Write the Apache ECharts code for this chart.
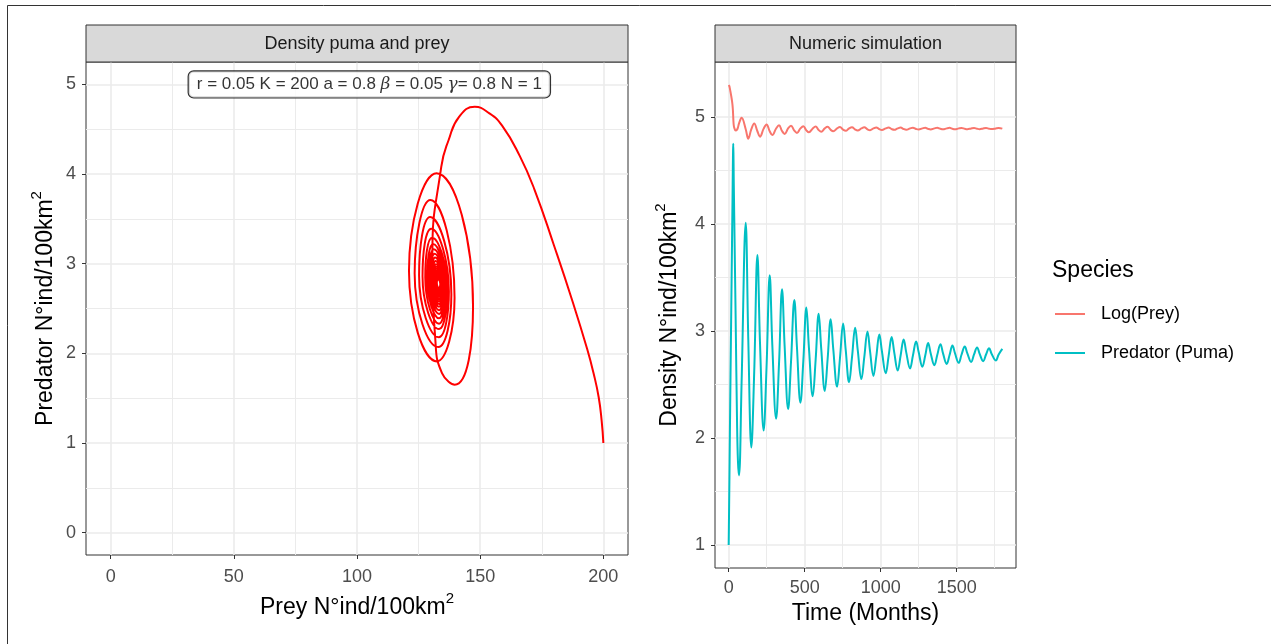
<!DOCTYPE html>
<html>
<head>
<meta charset="utf-8">
<script src="https://cdn.jsdelivr.net/npm/echarts@6/dist/echarts.min.js"></script>
<style>
  html, body { margin: 0; padding: 0; background: #ffffff; }
  #chart { width: 1271px; height: 644px; }
</style>
</head>
<body>
<div id="chart"></div>
<script>
// Simulated time points (months) with prey and puma densities (N°ind/100km²)
const months = [
  0, 2, 4, 6, 8, 12, 17, 22, 25, 27.5, 28.8, 30, 31.5, 33.5, 36.5, 46, 55, 61, 68, 85,
  112, 129, 149, 168,
  189, 206, 230, 249,
  270, 287, 312, 331,
  351, 368, 391, 410,
  432, 449, 472, 491,
  511, 528, 553, 572,
  592, 609, 632, 651,
  671, 688, 713, 732,
  753, 770, 792, 811,
  832, 849, 873, 892,
  913, 930, 952, 971,
  991, 1008, 1033, 1052,
  1072, 1089, 1112, 1131,
  1151, 1168, 1193, 1212,
  1233, 1250, 1274, 1293,
  1312, 1329, 1353, 1372,
  1393, 1410, 1434, 1453,
  1472, 1489, 1513, 1532,
  1553, 1570, 1595, 1614,
  1634, 1651, 1674, 1693,
  1713, 1730, 1757, 1776,
  1800
];

const preyDensity = [
  200.0, 199.3, 198.1, 196.0, 193.4, 187.6, 180.0, 172.0, 166.1, 158.9, 153.6, 147.8, 141.5, 137.2, 134.2, 130.6, 131.8, 134.5, 139.7, 147.1,
  132.3, 121.1, 132.4, 139.6,
  129.8, 123.4, 133.0, 138.3,
  129.7, 125.2, 133.2, 137.3,
  130.1, 126.6, 133.3, 136.6,
  130.5, 127.7, 133.3, 136.0,
  130.9, 128.5, 133.3, 135.6,
  131.2, 129.2, 133.3, 135.3,
  131.5, 129.8, 133.3, 135.0,
  131.7, 130.3, 133.3, 134.8,
  131.9, 130.7, 133.3, 134.6,
  132.1, 131.0, 133.3, 134.5,
  132.3, 131.3, 133.3, 134.4,
  132.4, 131.5, 133.3, 134.3,
  132.5, 131.7, 133.3, 134.2,
  132.6, 131.9, 133.3, 134.1,
  132.7, 132.0, 133.3, 134.05,
  132.75, 132.1, 133.3, 134.0,
  132.8, 132.2, 133.3, 133.95,
  132.85, 132.3, 133.3, 133.9,
  132.9, 132.35, 133.3, 133.85,
  132.95, 132.4, 133.3, 133.8,
  133.0
];

const pumaDensity = [
  1.00, 1.25, 1.51, 1.78, 2.05, 2.57, 3.20, 3.83, 4.20, 4.54, 4.68, 4.75, 4.64, 4.38, 4.08, 3.10, 2.15, 1.78, 1.65, 2.52,
  4.01, 2.92, 1.91, 2.62,
  3.71, 2.89, 2.07, 2.66,
  3.52, 2.87, 2.18, 2.69,
  3.39, 2.86, 2.27, 2.71,
  3.29, 2.85, 2.33, 2.72,
  3.22, 2.84, 2.39, 2.73,
  3.16, 2.83, 2.44, 2.74,
  3.11, 2.83, 2.48, 2.745,
  3.07, 2.82, 2.52, 2.75,
  3.03, 2.82, 2.55, 2.755,
  2.995, 2.81, 2.58, 2.76,
  2.967, 2.81, 2.605, 2.765,
  2.943, 2.80, 2.63, 2.77,
  2.921, 2.80, 2.65, 2.77,
  2.902, 2.80, 2.666, 2.77,
  2.888, 2.79, 2.68, 2.775,
  2.876, 2.79, 2.692, 2.775,
  2.864, 2.79, 2.702, 2.78,
  2.854, 2.79, 2.711, 2.78,
  2.846, 2.785, 2.718, 2.78,
  2.839, 2.785, 2.724, 2.78,
  2.832
];

// Axis breaks
const preyTicks = [0, 50, 100, 150, 200];
const preyMinorTicks = [25, 75, 125, 175];
const pumaTicks = [0, 1, 2, 3, 4, 5];
const pumaMinorTicks = [0.5, 1.5, 2.5, 3.5, 4.5];
const monthTicks = [0, 500, 1000, 1500];
const monthMinorTicks = [250, 750, 1250, 1750];
const densityTicks = [1, 2, 3, 4, 5];
const densityMinorTicks = [1.5, 2.5, 3.5, 4.5];

const speciesNames = ['Log(Prey)', 'Predator (Puma)'];
const panelTitles = ['Density puma and prey', 'Numeric simulation'];
const parameterPosition = [105, 5];

const FONT = '"Liberation Sans", Arial, Helvetica, sans-serif';

const phasePath = months.map((m, i) => [preyDensity[i], pumaDensity[i]]);
const logPreyPath = months.map((m, i) => [m, Math.log(preyDensity[i])]);
const pumaPath = months.map((m, i) => [m, pumaDensity[i]]);

function titleStyle() {
  return {
    color: '#000000',
    fontFamily: FONT,
    rich: {
      t: { fontSize: 23, fontFamily: FONT, color: '#000000', verticalAlign: 'bottom', padding: [5, 0, 0, 0] },
      s: { fontSize: 15, fontFamily: FONT, color: '#000000', verticalAlign: 'top' }
    }
  };
}

function valueAxis(opts) {
  return {
    type: 'value',
    gridIndex: opts.grid,
    min: opts.min,
    max: opts.max,
    name: opts.name,
    nameLocation: 'middle',
    nameGap: opts.nameGap,
    nameTextStyle: opts.nameStyle,
    axisLine: { show: false, onZero: false },
    axisTick: { show: true, length: 4, customValues: opts.ticks, lineStyle: { color: '#333333', width: 1 } },
    axisLabel: {
      show: true, customValues: opts.ticks, color: '#4D4D4D', fontSize: 18, fontFamily: FONT,
      margin: opts.labelMargin, formatter: v => String(v)
    },
    splitLine: { show: true, lineStyle: { color: '#EBEBEB', width: 1.6 } },
    minorTick: { show: false },
    minorSplitLine: { show: false }
  };
}

function minorGridSeries(xIdx, yIdx, xs, ys, anchor) {
  return {
    type: 'line',
    xAxisIndex: xIdx,
    yAxisIndex: yIdx,
    data: [anchor],
    symbol: 'none',
    silent: true,
    z: 1,
    lineStyle: { opacity: 0 },
    markLine: {
      z: 1,
      silent: true,
      symbol: 'none',
      animation: false,
      label: { show: false },
      emphasis: { disabled: true },
      lineStyle: { color: '#EBEBEB', width: 1, type: 'solid' },
      data: xs.map(v => ({ xAxis: v })).concat(ys.map(v => ({ yAxis: v })))
    }
  };
}

const chart = echarts.init(document.getElementById('chart'), null, { renderer: 'canvas' });

const grids = [
  { left: 86, top: 62, width: 542, height: 493 },
  { left: 715, top: 62, width: 301, height: 506 }
];

function strip(g, text) {
  return [
    {
      type: 'rect',
      shape: { x: g.left, y: 25, width: g.width, height: g.top - 25 },
      style: { fill: '#D9D9D9', stroke: '#333333', lineWidth: 1 },
      z: 10
    },
    {
      type: 'text',
      x: g.left + g.width / 2,
      y: (25 + g.top) / 2 + 1,
      style: { text: text, fill: '#1A1A1A', fontSize: 18, fontFamily: FONT, align: 'center', verticalAlign: 'middle' },
      z: 11
    }
  ];
}

const option = {
  animation: false,
  backgroundColor: '#ffffff',
  grid: grids.map(g => Object.assign({
    show: true,
    backgroundColor: 'transparent',
    borderColor: '#333333',
    borderWidth: 1,
    containLabel: false
  }, g)),
  xAxis: [
    valueAxis({ grid: 0, min: -10, max: 210, ticks: preyTicks, labelMargin: 13,
      name: '{t|Prey N°ind/100km}{s|2}', nameGap: 36, nameStyle: titleStyle() }),
    valueAxis({ grid: 1, min: -90, max: 1890, ticks: monthTicks, labelMargin: 11,
      name: 'Time (Months)', nameGap: 33,
      nameStyle: { color: '#000000', fontSize: 23, fontFamily: FONT } })
  ],
  yAxis: [
    valueAxis({ grid: 0, min: -0.25, max: 5.25, ticks: pumaTicks, labelMargin: 10,
      name: '{t|Predator N°ind/100km}{s|2}', nameGap: 29, nameStyle: titleStyle() }),
    valueAxis({ grid: 1, min: 0.785, max: 5.513, ticks: densityTicks, labelMargin: 10,
      name: '{t|Density N°ind/100km}{s|2}', nameGap: 34, nameStyle: titleStyle() })
  ],
  legend: {
    data: speciesNames,
    orient: 'vertical',
    left: 1055,
    top: 304,
    padding: 0,
    icon: 'rect',
    itemWidth: 30,
    itemHeight: 2,
    itemGap: 19,
    selectedMode: false,
    textStyle: { fontSize: 18, fontFamily: FONT, color: '#000000', lineHeight: 20, padding: [0, 0, 0, 11] }
  },
  graphic: [
    {
      type: 'rect',
      shape: { x: 7.5, y: 5.5, width: 1300, height: 700 },
      style: { fill: 'none', stroke: '#333333', lineWidth: 1 },
      z: 20,
      silent: true
    },
    ...strip(grids[0], panelTitles[0]),
    ...strip(grids[1], panelTitles[1]),
    {
      type: 'text',
      left: 1052,
      top: 259,
      style: { text: 'Species', fill: '#000000', fontSize: 23, fontFamily: FONT },
      z: 11
    }
  ],
  series: [
    minorGridSeries(0, 0, preyMinorTicks, pumaMinorTicks, [preyTicks[0], pumaTicks[0]]),
    minorGridSeries(1, 1, monthMinorTicks, densityMinorTicks, [monthTicks[0], densityTicks[0]]),
    {
      name: 'Phase',
      type: 'line',
      xAxisIndex: 0,
      yAxisIndex: 0,
      data: phasePath,
      symbol: 'none',
      smooth: 0.5,
      clip: false,
      z: 3,
      lineStyle: { color: '#FF0000', width: 2 }
    },
    {
      type: 'scatter',
      xAxisIndex: 0,
      yAxisIndex: 0,
      data: [parameterPosition],
      symbolSize: 0,
      silent: true,
      z: 5,
      label: {
        show: true,
        position: 'inside',
        backgroundColor: '#ffffff',
        borderColor: '#000000',
        borderWidth: 1.2,
        borderRadius: 5,
        padding: [4, 8, 4, 8],
        formatter: '{n|r = 0.05 K = 200 a = 0.8 }{g|β}{n| = 0.05 }{g|γ}{n|= 0.8 N = 1}',
        rich: {
          n: { fontSize: 17, fontFamily: FONT, color: '#000000', lineHeight: 18 },
          g: { fontSize: 17, fontFamily: '"DejaVu Serif", "Liberation Serif", serif', fontStyle: 'italic', color: '#000000', lineHeight: 18 }
        }
      }
    },
    {
      name: speciesNames[0],
      type: 'line',
      xAxisIndex: 1,
      yAxisIndex: 1,
      data: logPreyPath,
      symbol: 'none',
      smooth: 0.4,
      z: 3,
      color: '#F8766D',
      lineStyle: { color: '#F8766D', width: 2 }
    },
    {
      name: speciesNames[1],
      type: 'line',
      xAxisIndex: 1,
      yAxisIndex: 1,
      data: pumaPath,
      symbol: 'none',
      smooth: 0.4,
      z: 3,
      color: '#00BFC4',
      lineStyle: { color: '#00BFC4', width: 2 }
    }
  ]
};

chart.setOption(option);
</script>
</body>
</html>
